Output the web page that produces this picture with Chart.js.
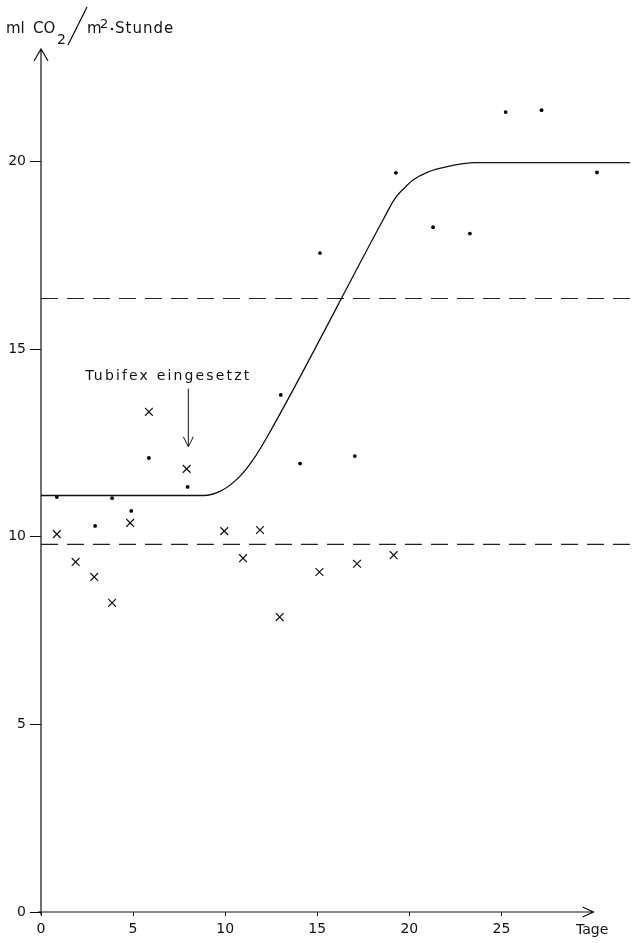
<!DOCTYPE html>
<html>
<head>
<meta charset="utf-8">
<script src="https://cdn.jsdelivr.net/npm/chart.js@4"></script>
<style>
  html, body { margin: 0; padding: 0; background: #fff; }
  #wrap { width: 637px; height: 943px; position: relative; }
</style>
</head>
<body>
<div id="wrap"><canvas id="grafico"></canvas></div>
<script>
// Messpunkte (Punkte)
const punktTage  = [0.86, 2.94, 3.86, 4.9, 5.86, 7.96, 13.02, 14.07, 15.15, 17.04, 19.27, 21.29, 23.29, 25.23, 27.18, 30.19];
const punktWerte = [11.06, 10.29, 11.03, 10.69, 12.1, 11.33, 13.78, 11.95, 17.56, 12.15, 19.7, 18.25, 18.08, 21.32, 21.37, 19.71];

// Messpunkte (Kreuze)
const kreuzTage  = [0.86, 1.88, 2.89, 3.86, 4.84, 5.86, 7.91, 9.95, 10.97, 11.89, 12.96, 15.12, 17.16, 19.15];
const kreuzWerte = [10.07, 9.33, 8.93, 8.24, 10.37, 13.33, 11.81, 10.15, 9.43, 10.18, 7.86, 9.06, 9.28, 9.51];

// ausgeglichene Kurve
const kurveTage  = [0, 8.8, 9.8, 10.8, 11.5, 12.3, 18.6, 19.2, 19.8, 20.2, 21, 22, 23.6, 32];
const kurveWerte = [11.1, 11.1, 11.23, 11.61, 12.04, 12.68, 18.47, 19.0, 19.33, 19.51, 19.72, 19.86, 19.97, 19.97];

// gestrichelte Mittelwerte
const mittelwerte = [16.35, 9.8];

const xTicks = [0, 5, 10, 15, 20, 25];
const yTicks = [0, 5, 10, 15, 20];
const xEnde = 30, yEnde = 23;
const tubifexTag = 8;

const schrift = '"DejaVu Sans", sans-serif';
const toXY = (xs, ys) => xs.map((x, i) => ({ x, y: ys[i] }));

// Achsen mit Pfeilen, Beschriftungen
const achsen = {
  id: 'achsen',
  afterDraw(chart) {
    const { ctx, scales: { x, y } } = chart;
    const x0 = x.getPixelForValue(0), y0 = y.getPixelForValue(0);
    const xe = x.getPixelForValue(xEnde), ye = y.getPixelForValue(yEnde);
    ctx.save();
    ctx.strokeStyle = '#111';
    ctx.lineWidth = 1.2;
    ctx.beginPath();
    ctx.moveTo(x0, y0 + 3); ctx.lineTo(x0, ye);
    ctx.moveTo(x0 - 3, y0); ctx.lineTo(xe, y0);
    ctx.moveTo(x0 - 7, ye + 12); ctx.lineTo(x0, ye); ctx.lineTo(x0 + 7, ye + 12);
    ctx.moveTo(xe - 11, y0 - 5); ctx.lineTo(xe, y0); ctx.lineTo(xe - 11, y0 + 5);
    ctx.stroke();

    // Pfeil "Tubifex eingesetzt"
    const ax = x.getPixelForValue(tubifexTag);
    const aTop = y.getPixelForValue(13.95), aTip = y.getPixelForValue(12.4);
    ctx.lineWidth = 1;
    ctx.beginPath();
    ctx.moveTo(ax, aTop); ctx.lineTo(ax, aTip);
    ctx.moveTo(ax - 5, aTip - 10); ctx.lineTo(ax, aTip); ctx.lineTo(ax + 5, aTip - 10);
    ctx.stroke();

    ctx.fillStyle = '#111';
    ctx.textBaseline = 'alphabetic';
    ctx.font = '14px ' + schrift;
    const txt = 'Tubifex eingesetzt';
    const w = ctx.measureText(txt).width;
    ctx.letterSpacing = ((164 - w) / (txt.length - 1)).toFixed(2) + 'px';
    ctx.textAlign = 'center';
    ctx.fillText(txt, ax - 20, aTop - 9);
    ctx.letterSpacing = '0px';

    // "Tage"
    ctx.textAlign = 'left';
    ctx.font = '14px ' + schrift;
    ctx.fillText('Tage', 576, 934);

    // Achsentitel ml CO2 / m2 · Stunde
    ctx.font = '15px ' + schrift;
    ctx.fillText('ml', 6, 33);
    ctx.fillText('CO', 33, 33);
    ctx.font = '14px ' + schrift;
    ctx.fillText('2', 57, 44);
    ctx.beginPath();
    ctx.lineWidth = 1.3;
    ctx.moveTo(68, 45); ctx.lineTo(87, 7);
    ctx.stroke();
    ctx.font = '15px ' + schrift;
    ctx.fillText('m', 87, 33);
    ctx.font = '13px ' + schrift;
    ctx.fillText('2', 100, 28);
    ctx.beginPath();
    ctx.arc(112, 29, 1.2, 0, Math.PI * 2);
    ctx.fill();
    ctx.font = '15px ' + schrift;
    ctx.letterSpacing = '1px';
    ctx.fillText('Stunde', 115, 33);
    ctx.restore();
  }
};

new Chart(document.getElementById('grafico'), {
  type: 'scatter',
  data: {
    datasets: [
      {
        data: toXY(kurveTage, kurveWerte),
        showLine: true,
        borderColor: '#111',
        borderWidth: 1.3,
        pointRadius: 0,
        cubicInterpolationMode: 'monotone'
      },
      ...mittelwerte.map(v => ({
        data: [{ x: 0, y: v }, { x: 32, y: v }],
        showLine: true,
        borderColor: '#222',
        borderWidth: 1.2,
        borderDash: [17, 9],
        pointRadius: 0
      })),
      {
        data: toXY(punktTage, punktWerte),
        pointStyle: 'circle',
        pointRadius: 1.9,
        backgroundColor: '#000',
        borderWidth: 0
      },
      {
        data: toXY(kreuzTage, kreuzWerte),
        pointStyle: 'crossRot',
        pointRadius: 5.5,
        borderColor: '#111',
        borderWidth: 1.2
      }
    ]
  },
  options: {
    responsive: true,
    maintainAspectRatio: false,
    animation: false,
    layout: { padding: { top: 49, right: 0, left: 0, bottom: 0 } },
    plugins: { legend: { display: false }, tooltip: { enabled: false } },
    scales: {
      x: {
        type: 'linear',
        min: 0,
        max: 32,
        afterBuildTicks: s => { s.ticks = xTicks.map(v => ({ value: v })); },
        afterFit: s => { s.height = 31; },
        grid: { drawOnChartArea: false, drawTicks: true, tickLength: 4, color: '#111' },
        border: { display: false },
        ticks: { color: '#111', font: { family: schrift, size: 14 }, padding: 5, maxRotation: 0 }
      },
      y: {
        min: 0,
        max: yEnde,
        afterBuildTicks: s => { s.ticks = yTicks.map(v => ({ value: v })); },
        afterFit: s => { s.width = 41; },
        grid: { drawOnChartArea: false, drawTicks: true, tickLength: 11, color: '#111' },
        border: { display: false },
        ticks: { color: '#111', font: { family: schrift, size: 14 }, padding: 4 }
      }
    }
  },
  plugins: [achsen]
});
</script>
</body>
</html>
